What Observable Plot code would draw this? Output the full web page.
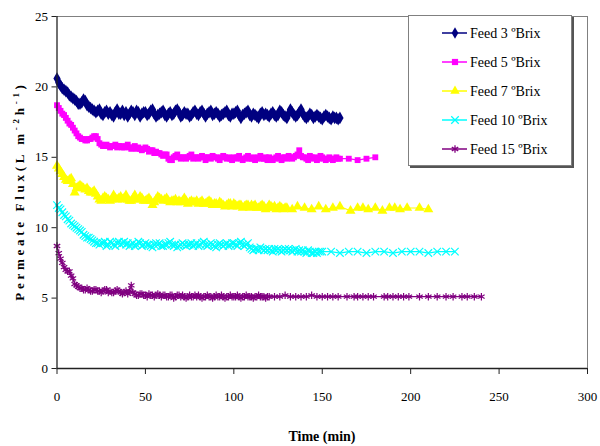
<!DOCTYPE html>
<html>
<head>
<meta charset="utf-8">
<script src="https://cdn.jsdelivr.net/npm/d3@7"></script>
<script src="https://cdn.jsdelivr.net/npm/@observablehq/plot@0.6"></script>
<style>
  html, body { margin: 0; padding: 0; background: #fff; }
  #wrap { position: relative; width: 600px; height: 446px; font-family: 'Liberation Serif', 'DejaVu Serif', serif; }
  #legend { position: absolute; left: 408px; top: 15px; width: 162px; height: 149px; border: 1px solid #808080; box-shadow: 2px 2px 0 #555; background: #fff; }
</style>
</head>
<body>
<div id="wrap"><div id="chart"></div><div id="legend"></div></div>
<script>
const seriesNames = ["Feed 3 ºBrix", "Feed 5 ºBrix", "Feed 7 ºBrix", "Feed 10 ºBrix", "Feed 15 ºBrix"];
const xTicks = [0, 50, 100, 150, 200, 250, 300];
const yTicks = [0, 5, 10, 15, 20, 25];

// sampling minutes of the dense part of each run
const minutes = [0,1,2,3,4,5,6,7,8,9,10,11,12,13,14,15,16,17,18,19,20,21,22,23,24,25,26,27,28,29,30,31,32,33,34,35,36,37,38,39,40,41,42,43,44,45,46,47,48,49,50,51,52,53,54,55,56,57,58,59,60,61,62,63,64,65,66,67,68,69,70,71,72,73,74,75,76,77,78,79,80,81,82,83,84,85,86,87,88,89,90,91,92,93,94,95,96,97,98,99,100,101,102,103,104,105,106,107,108,109,110,111,112,113,114,115,116,117,118,119,120,121,122,123,124,125,126,127,128,129,130,131,132,133,134,135,136,137,138,139,140,141,142,143,144,145,146,147,148,149,150,151,152,153,154,155,156,157,158,159,160];

const feed3Time = minutes.slice(0, 161);
const feed3Flux = [20.6,20.3,20.1,19.9,19.8,19.7,19.6,19.4,19.3,19.2,
  19.1,19.0,18.8,18.8,18.9,19.1,19.0,18.7,18.6,18.5,
  18.4,18.3,18.2,18.3,18.4,18.1,18.0,18.2,18.3,18.1,
  18.2,18.0,17.9,18.2,18.4,18.1,18.1,18.3,18.0,18.2,
  17.9,18.1,18.3,18.2,18.0,18.3,18.2,17.9,18.1,18.2,
  18.2,18.0,18.1,18.3,18.4,18.1,17.9,18.0,18.1,18.2,
  18.3,18.0,17.9,18.1,18.2,18.0,18.1,18.3,18.4,18.2,
  17.9,18.0,18.2,18.1,18.1,17.9,18.0,18.2,18.3,18.1,
  18.0,18.2,18.3,18.1,17.9,18.1,18.2,18.3,18.0,18.1,
  18.2,18.1,17.9,18.0,18.1,18.2,18.3,18.0,17.9,18.1,
  18.1,18.2,18.3,18.0,17.8,18.0,18.1,18.2,18.3,18.0,
  17.9,18.1,18.0,17.9,17.8,18.1,18.2,18.0,18.1,18.0,
  17.9,18.1,18.2,18.0,17.9,18.0,18.3,18.2,18.0,17.9,
  17.8,18.1,18.4,18.2,18.0,17.9,18.0,18.2,18.4,18.1,
  17.9,17.8,17.9,18.1,18.0,17.8,17.9,18.0,17.9,17.8,
  17.7,17.9,18.0,17.9,17.8,17.7,17.9,17.8,17.8,17.7,
  17.8];

const feed5Time = minutes.slice(0, 161).concat([165, 170, 175, 180]);
const feed5Flux = [18.7,18.5,18.3,18.1,18.0,17.8,17.6,17.4,17.3,17.1,
  16.9,16.7,16.5,16.4,16.3,16.3,16.2,16.2,16.3,16.3,
  16.4,16.5,16.5,16.3,16.0,15.9,15.8,15.8,15.9,15.8,
  15.7,15.8,15.8,15.9,15.7,15.8,15.8,15.7,15.7,15.8,
  15.9,15.7,15.6,15.7,15.8,15.6,15.7,15.6,15.5,15.6,
  15.7,15.6,15.4,15.5,15.5,15.3,15.4,15.3,15.3,15.2,
  15.1,15.2,15.2,14.9,14.8,14.8,15.0,15.1,15.2,15.0,
  14.9,15.0,15.0,14.9,15.0,15.1,15.2,14.9,15.0,15.0,
  14.9,15.0,15.1,15.0,14.8,15.0,15.0,14.9,15.1,15.0,
  15.0,14.9,14.8,15.0,15.1,15.0,14.9,15.0,14.9,14.8,
  15.0,14.9,15.0,15.1,14.9,14.8,14.9,15.0,15.1,14.9,
  14.9,15.0,14.8,14.9,15.0,15.1,14.9,14.9,15.0,14.8,
  15.0,14.9,14.8,14.9,15.0,15.1,14.9,14.8,15.0,15.0,
  14.9,15.1,15.0,14.9,15.0,15.1,15.2,15.5,15.1,15.0,
  15.0,14.9,14.8,15.1,15.0,14.9,15.0,14.8,14.9,15.1,
  15.0,14.9,14.8,14.9,15.0,14.9,14.8,14.9,15.0,14.9,
  14.9,
  14.9,14.8,14.9,15.0];

const feed7Time = minutes.slice(0, 131).concat([133,136,140,144,148,152,156,160,166,170,173,176,180,184,188,191,194,198,205,210]);
const feed7Flux = [14.4,14.2,14.0,13.8,13.6,13.4,13.3,13.4,13.5,13.1,
  12.5,12.8,12.9,13.0,12.9,12.8,12.7,12.8,12.6,12.5,
  12.5,12.6,12.4,12.2,12.0,11.9,12.1,12.2,12.1,12.0,
  11.9,12.0,12.3,12.1,12.0,12.1,12.2,12.0,12.1,12.3,
  12.0,11.9,11.9,12.1,12.3,12.0,12.0,12.2,12.1,11.9,
  11.9,12.0,12.1,11.9,11.6,11.8,12.0,12.2,12.1,12.0,
  11.9,12.0,12.1,11.9,11.8,11.9,11.9,12.0,11.8,11.9,
  11.8,11.9,12.1,11.9,11.7,11.8,11.9,11.8,11.8,11.9,
  11.7,11.8,11.9,11.7,11.7,11.8,11.9,11.8,11.6,11.7,
  11.7,11.6,11.8,11.7,11.6,11.5,11.6,11.7,11.7,11.5,
  11.7,11.6,11.5,11.6,11.6,11.4,11.5,11.6,11.6,11.4,
  11.6,11.5,11.6,11.4,11.4,11.5,11.6,11.5,11.3,11.4,
  11.6,11.5,11.4,11.5,11.3,11.4,11.5,11.4,11.3,11.4,
  11.4,
  11.3,11.5,11.4,11.3,11.5,11.3,11.4,11.5,11.2,11.4,
  11.4,11.3,11.4,11.2,11.4,11.4,11.3,11.4,11.4,11.3];

const feed10Time = minutes.slice(0, 151).concat([155,160,165,170,175,180,185,190,195,200,205,210,215,220,225]);
const feed10Flux = [11.6,11.4,11.3,11.1,10.9,10.8,10.6,10.5,10.3,10.2,
  10.1,10.0,9.9,9.8,9.7,9.5,9.4,9.3,9.3,9.2,
  9.1,9.0,8.9,8.9,8.8,8.9,8.9,9.0,8.7,8.8,
  9.0,8.9,8.8,8.7,8.9,9.0,8.8,8.9,9.0,8.8,
  8.9,8.7,8.8,8.9,8.7,8.8,9.0,8.9,8.7,8.8,
  8.9,8.8,8.8,8.7,8.6,8.8,8.9,8.8,8.9,8.7,
  8.7,8.8,8.8,8.9,9.0,8.8,8.7,8.8,8.6,8.7,
  8.8,8.9,8.8,8.7,8.8,8.8,8.9,8.7,8.8,8.9,
  8.7,8.8,8.9,9.0,8.8,8.7,8.8,8.9,8.8,8.7,
  8.6,8.8,8.9,8.8,8.7,8.8,8.9,8.7,8.8,8.9,
  8.9,8.8,8.7,8.9,9.0,8.8,8.7,8.8,8.9,8.6,
  8.5,8.4,8.5,8.5,8.4,8.6,8.5,8.4,8.5,8.4,
  8.5,8.4,8.3,8.5,8.4,8.5,8.4,8.3,8.4,8.5,
  8.4,8.5,8.4,8.3,8.4,8.5,8.3,8.4,8.3,8.4,
  8.3,8.2,8.4,8.3,8.2,8.2,8.3,8.2,8.3,8.3,
  8.3,
  8.3,8.2,8.3,8.3,8.2,8.3,8.3,8.2,8.3,8.3,8.3,8.2,8.3,8.3,8.3];

const feed15Time = minutes.slice(0, 121).concat([123,126,129,132,135,138,141,144,147,150,153,156,159,164,168,170,173,176,179,185,187,190,193,196,199,205,210,215,220,224,229,232,236,240]);
const feed15Flux = [8.7,8.2,7.8,7.5,7.2,7.0,6.9,6.9,6.6,6.4,
  6.0,5.9,5.8,5.7,5.7,5.6,5.6,5.7,5.6,5.5,
  5.5,5.6,5.6,5.5,5.5,5.4,5.5,5.6,5.6,5.4,
  5.5,5.4,5.4,5.5,5.6,5.5,5.4,5.3,5.4,5.5,
  5.3,5.5,5.9,5.4,5.3,5.2,5.2,5.3,5.3,5.2,
  5.2,5.1,5.3,5.2,5.2,5.1,5.2,5.3,5.2,5.1,
  5.2,5.2,5.1,5.1,5.2,5.2,5.0,5.1,5.2,5.2,
  5.1,5.2,5.1,5.0,5.1,5.2,5.1,5.1,5.2,5.1,
  5.2,5.1,5.0,5.1,5.1,5.2,5.1,5.1,5.0,5.1,
  5.2,5.1,5.1,5.2,5.1,5.0,5.1,5.1,5.2,5.1,
  5.1,5.1,5.2,5.1,5.0,5.1,5.1,5.2,5.1,5.1,
  5.1,5.0,5.1,5.1,5.2,5.1,5.1,5.1,5.0,5.1,
  5.1,
  5.1,5.1,5.2,5.1,5.1,5.1,5.1,5.2,5.1,5.1,5.1,5.1,5.1,
  5.1,5.1,5.1,5.1,5.1,5.1,5.1,5.1,5.1,5.1,5.1,5.1,5.1,5.1,5.1,5.1,5.1,5.1,5.1,5.1,5.1];

const seriesData = [
  [feed3Time, feed3Flux], [feed5Time, feed5Flux], [feed7Time, feed7Flux],
  [feed10Time, feed10Flux], [feed15Time, feed15Flux]
];
const styles = [
  {color: "#000080", symbol: "diamond", filled: true, r: 3.8},
  {color: "#FF00FF", symbol: "square", filled: true, r: 3.3},
  {color: "#FFFF00", symbol: "triangle", filled: true, r: 3.7},
  {color: "#00FFFF", symbol: "times", filled: false, r: 3.5},
  {color: "#800080", symbol: "asterisk", filled: false, r: 3.5}
];

const rows = [];
seriesData.forEach(([t, f], i) => {
  t.forEach((tv, j) => rows.push({series: seriesNames[i], time: tv, flux: f[j]}));
});

const marks = [];
seriesNames.forEach((name, i) => {
  const s = styles[i];
  const d = rows.filter(r => r.series === name);
  marks.push(Plot.line(d, {x: "time", y: "flux", stroke: s.color, strokeWidth: 1.2}));
  marks.push(Plot.dot(d, s.filled
    ? {x: "time", y: "flux", symbol: () => s.symbol, fill: s.color, stroke: "none", r: s.r}
    : {x: "time", y: "flux", symbol: () => s.symbol, stroke: s.color, strokeWidth: 1.2, r: s.r}));
});

const serif = "'Liberation Serif', 'DejaVu Serif', serif";
const chart = Plot.plot({
  width: 600,
  height: 446,
  marginLeft: 56.5,
  marginRight: 13,
  marginTop: 16,
  marginBottom: 78,
  style: {fontFamily: serif, fontSize: "13px", background: "#fff", color: "#000"},
  x: {domain: [0, 300]},
  y: {domain: [0, 25]},
  symbol: {type: "identity"},
  marks: [
    Plot.ruleY([25], {stroke: "#808080", strokeWidth: 1}),
    Plot.ruleX([300], {stroke: "#808080", strokeWidth: 1}),
    ...marks,
    Plot.ruleX([0], {stroke: "#222", strokeWidth: 1.3}),
    Plot.ruleY([0], {stroke: "#222", strokeWidth: 1.3}),
    Plot.axisX(xTicks, {tickSize: 6, tickPadding: 17, stroke: "#222", label: null, fontSize: 13}),
    Plot.axisY(yTicks, {tickSize: 5, tickPadding: 4, stroke: "#222", label: null, fontSize: 13})
  ]
});
document.getElementById("chart").appendChild(chart);

const svg = d3.select(chart);
svg.append("text")
  .attr("x", 322).attr("y", 441)
  .attr("text-anchor", "middle")
  .style("font-weight", "bold").style("font-size", "14px")
  .text("Time (min)");

const yl = svg.append("text")
  .attr("transform", "translate(24,191) rotate(-90)")
  .attr("text-anchor", "middle")
  .style("font-weight", "bold").style("font-size", "13px").style("letter-spacing", "3.7px");
yl.append("tspan").text("Permeate Flux(L m");
yl.append("tspan").attr("dy", "-5").style("font-size", "9px").text("-2");
yl.append("tspan").attr("dy", "5").text("h");
yl.append("tspan").attr("dy", "-5").style("font-size", "9px").text("-1");
yl.append("tspan").attr("dy", "5").text(")");

svg.selectAll("text").attr("font-family", serif).style("font-family", serif);

// legend
const lg = d3.select("#legend").append("svg").attr("width", 162).attr("height", 149)
  .style("font-family", serif).style("font-size", "14px");
const rowY = [17, 46, 75, 104, 133];
const symMap = {diamond: d3.symbolDiamond, square: d3.symbolSquare, triangle: d3.symbolTriangle, times: d3.symbolTimes, asterisk: d3.symbolAsterisk};
seriesNames.forEach((name, i) => {
  const s = styles[i];
  const g = lg.append("g").attr("transform", `translate(0,${rowY[i]})`);
  g.append("line").attr("x1", 33).attr("x2", 58).attr("y1", 0).attr("y2", 0).attr("stroke", s.color).attr("stroke-width", 1.5);
  const area = Math.PI * 3.5 * 3.5;
  const p = g.append("path").attr("transform", "translate(46,0)").attr("d", d3.symbol(symMap[s.symbol], area)());
  if (s.filled) p.attr("fill", s.color); else p.attr("fill", "none").attr("stroke", s.color).attr("stroke-width", 1.3);
  g.append("text").attr("x", 61).attr("y", 0).attr("dy", "0.35em").text(name);
});
</script>
</body>
</html>
